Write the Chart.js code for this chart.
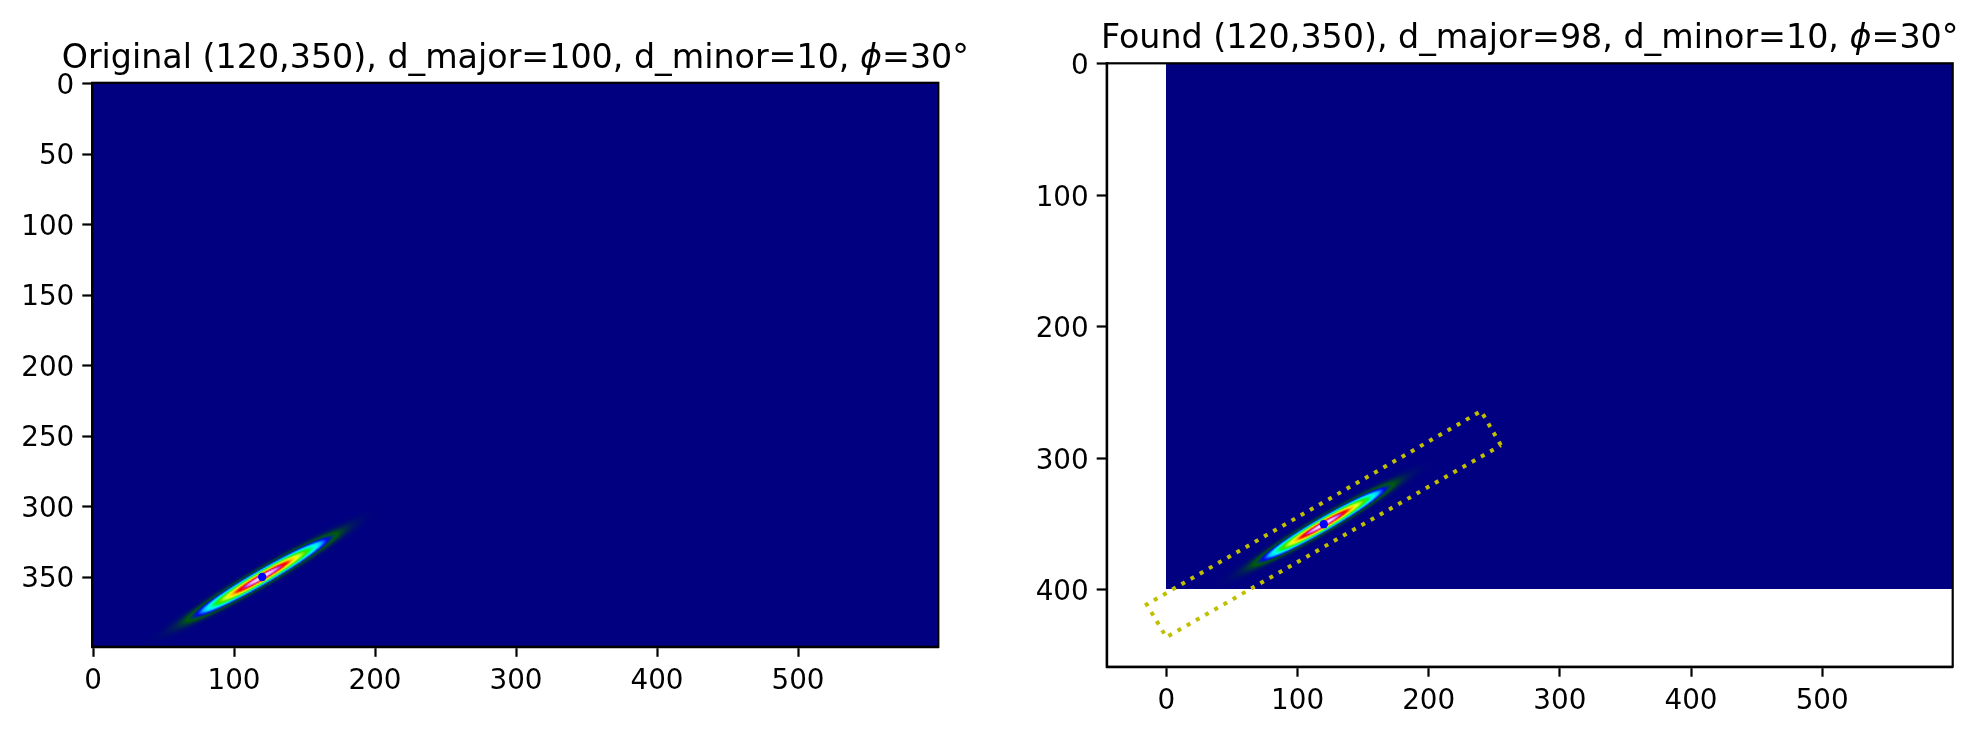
<!DOCTYPE html>
<html>
<head>
<meta charset="utf-8">
<script src="https://cdn.jsdelivr.net/npm/chart.js@4.4.1/dist/chart.umd.min.js"></script>
<style>
  html, body { margin: 0; padding: 0; background: #fff; }
  #wrap { position: relative; width: 1979px; height: 734px; overflow: hidden; }
  canvas { position: absolute; top: 0; }
  #c-orig { left: 0; }
  #c-found { left: 990px; }
</style>
</head>
<body>
<div id="wrap">
  <canvas id="c-orig" width="990" height="734"></canvas>
  <canvas id="c-found" width="989" height="734"></canvas>
</div>
<script>
/* ══════════════════════════════════════════════
   DATA
══════════════════════════════════════════════ */
const imgW = 600;
const imgH = 400;

const origX = 120, origY = 350, origMajor = 100, origMinor = 10, origPhi = 30;
const foundX = 120, foundY = 350, foundMajor = 98, foundMinor = 10, foundPhi = 30;

const xTicks = [0, 100, 200, 300, 400, 500];
const yTicksOrig = [0, 50, 100, 150, 200, 250, 300, 350];
const yTicksFound = [0, 100, 200, 300, 400];

// dotted search box drawn on the right panel (corners, closed)
const boxX = [255, 240, -15, 0, 255];
const boxY = [290, 264, 411, 436, 290];

const FONT = "'DejaVu Sans', 'Liberation Sans', sans-serif";

/* ══════════════════════════════════════════════
   COLORMAP — matplotlib gist_ncar
══════════════════════════════════════════════ */
const NCAR = {
  r: [[0,0],[0.3098,0],[0.3725,0.3993],[0.4235,0.5003],[0.5333,1],[0.7922,1],[0.8471,0.6218],[0.8980,0.9235],[1,0.9961]],
  g: [[0,0],[0.0510,0.3722],[0.1059,0],[0.1569,0.7202],[0.1608,0.7537],[0.1647,0.7752],[0.2157,1],[0.2588,0.9804],[0.2706,0.9804],[0.3176,1],[0.3686,0.8081],[0.4275,1],[0.5216,1],[0.6314,0.7292],[0.6863,0.2796],[0.7451,0],[0.7922,0],[0.8431,0.1753],[0.8980,0.5],[1,0.9725]],
  b: [[0,0.5020],[0.0510,0.0222],[0.1098,1],[0.2039,1],[0.2627,0.6145],[0.3216,0],[0.4157,0],[0.4745,0.2342],[0.5333,0],[0.7922,0],[0.8431,1],[0.8980,0.9341],[1,0.9961]]
};

function seg(pts, t) {
  for (let i = 1; i < pts.length; i++) {
    if (t <= pts[i][0]) {
      const [x0, y0] = pts[i-1], [x1, y1] = pts[i];
      return y0 + (y1 - y0) * (t - x0) / (x1 - x0);
    }
  }
  return pts[pts.length-1][1];
}

function ncar(t) {
  return [seg(NCAR.r, t) * 255, seg(NCAR.g, t) * 255, seg(NCAR.b, t) * 255];
}

/* ══════════════════════════════════════════════
   IMAGE — gaussian ellipse, d = 4 sigma
══════════════════════════════════════════════ */
function buildImage(cx, cy, dMaj, dMin, phiDeg) {
  const off = document.createElement('canvas');
  off.width = imgW; off.height = imgH;
  const c = off.getContext('2d');
  const id = c.createImageData(imgW, imgH);
  const sa = dMaj / 4, sb = dMin / 4;
  const th = phiDeg * Math.PI / 180, ct = Math.cos(th), st = Math.sin(th);
  for (let y = 0; y < imgH; y++) {
    for (let x = 0; x < imgW; x++) {
      const dx = x - cx, dy = y - cy;
      const u = dx * ct - dy * st;
      const v = dx * st + dy * ct;
      const val = Math.exp(-0.5 * (u*u/(sa*sa) + v*v/(sb*sb)));
      const [r, g, b] = ncar(val);
      const k = (y * imgW + x) * 4;
      id.data[k] = r; id.data[k+1] = g; id.data[k+2] = b; id.data[k+3] = 255;
    }
  }
  c.putImageData(id, 0, 0);
  return off;
}

const ellipseImg = buildImage(origX, origY, origMajor, origMinor, origPhi);

/* ══════════════════════════════════════════════
   PLUGINS
══════════════════════════════════════════════ */
const heatmapPlugin = {
  id: 'heatmap',
  beforeDatasetsDraw(chart) {
    const {ctx, chartArea: a, scales: {x, y}} = chart;
    const x0 = x.getPixelForValue(-0.5), x1 = x.getPixelForValue(imgW - 0.5);
    const y0 = y.getPixelForValue(-0.5), y1 = y.getPixelForValue(imgH - 0.5);
    ctx.save();
    ctx.beginPath();
    ctx.rect(a.left, a.top, a.right - a.left, a.bottom - a.top);
    ctx.clip();
    ctx.imageSmoothingEnabled = true;
    ctx.imageSmoothingQuality = 'high';
    ctx.drawImage(ellipseImg, x0, y0, x1 - x0, y1 - y0);
    ctx.restore();
  }
};

const framePlugin = {
  id: 'frame',
  afterDraw(chart) {
    const {ctx, chartArea: a} = chart;
    ctx.save();
    ctx.strokeStyle = '#000';
    ctx.lineWidth = 2.2;
    ctx.strokeRect(a.left, a.top, a.right - a.left, a.bottom - a.top);

    // title: plain text with an italic phi, as mathtext draws it
    const parts = chart.options.plugins.frameTitle.parts;
    const size = 33.3;
    const fonts = parts.map(p => (p.italic ? 'italic ' : '') + size + 'px ' + FONT);
    let total = 0;
    const widths = parts.map((p, i) => { ctx.font = fonts[i]; const w = ctx.measureText(p.text).width; total += w; return w; });
    let cx = (a.left + a.right) / 2 - total / 2;
    const base = a.top - 15;
    ctx.fillStyle = '#000';
    ctx.textBaseline = 'alphabetic';
    ctx.textAlign = 'left';
    parts.forEach((p, i) => {
      ctx.font = fonts[i];
      ctx.fillText(p.text, cx, base);
      cx += widths[i];
    });
    ctx.restore();
  }
};

/* ══════════════════════════════════════════════
   CHARTS
══════════════════════════════════════════════ */
function axisOpts(min, max, ticks, reverse, fitSize, horizontal) {
  return {
    type: 'linear',
    min, max, reverse,
    position: horizontal ? 'bottom' : 'left',
    afterBuildTicks: s => { s.ticks = ticks.map(v => ({value: v})); },
    afterFit: s => { if (horizontal) s.height = fitSize; else s.width = fitSize; },
    grid: { drawOnChartArea: false, drawTicks: true, tickLength: 10, tickWidth: 2.2, tickColor: '#000' },
    border: { display: true, color: '#000', width: 2.2 },
    ticks: {
      color: '#000', padding: 8, labelOffset: horizontal ? 0 : 3,
      font: { family: FONT, size: 27.8 }, maxRotation: 0, autoSkip: false
    }
  };
}

function makeChart(id, opts) {
  return new Chart(document.getElementById(id), {
    type: 'scatter',
    data: { datasets: opts.datasets },
    options: {
      responsive: false,
      animation: false,
      devicePixelRatio: 1,
      layout: { padding: { left: 0, top: opts.top, right: opts.right, bottom: 0 } },
      plugins: {
        legend: { display: false },
        tooltip: { enabled: false },
        frameTitle: { parts: opts.title }
      },
      scales: {
        x: axisOpts(opts.xMin, opts.xMax, xTicks, false, opts.xAxisH, true),
        y: axisOpts(opts.yMin, opts.yMax, opts.yTicks, true, opts.yAxisW, false)
      }
    },
    plugins: [heatmapPlugin, framePlugin]
  });
}

function centerDot(x, y) {
  return {
    data: [{x, y}], pointRadius: 4.2, pointBackgroundColor: '#0000ff',
    pointBorderWidth: 0, showLine: false
  };
}

function titleParts(label, x, y, dMaj, dMin, phi) {
  return [
    { text: `${label} (${x},${y}), d_major=${dMaj}, d_minor=${dMin}, ` },
    { text: '\u03D5', italic: true },
    { text: `=${phi}°` }
  ];
}

makeChart('c-orig', {
  datasets: [centerDot(origX, origY)],
  xMin: -0.5, xMax: 599.5, yMin: -0.5, yMax: 399.5,
  yTicks: yTicksOrig,
  top: 82.8, right: 51.7, xAxisH: 87.2, yAxisW: 92.3,
  title: titleParts('Original', origX, origY, origMajor, origMinor, origPhi)
});

makeChart('c-found', {
  datasets: [
    centerDot(foundX, foundY),
    {
      data: boxX.map((x, i) => ({x, y: boxY[i]})),
      showLine: true, pointRadius: 0, borderColor: '#bfbf00', borderWidth: 4,
      borderDash: [4, 6.6], borderCapStyle: 'butt', tension: 0, fill: false
    }
  ],
  xMin: -45.5, xMax: 599.5, yMin: -0.5, yMax: 458.4,
  yTicks: yTicksFound,
  top: 63.3, right: 26.3, xAxisH: 67.3, yAxisW: 116.7,
  title: titleParts('Found', foundX, foundY, foundMajor, foundMinor, foundPhi)
});
</script>
</body>
</html>
